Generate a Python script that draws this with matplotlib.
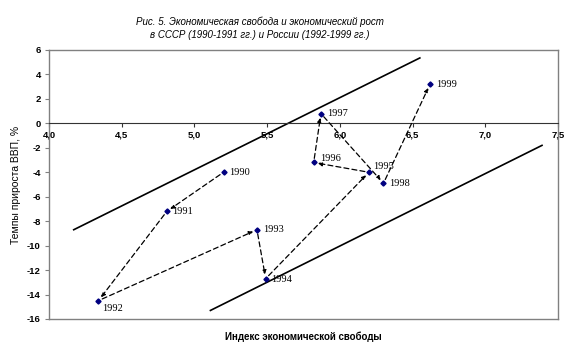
import matplotlib
matplotlib.use("Agg")
import matplotlib.pyplot as plt
from matplotlib.ticker import FixedLocator, FuncFormatter

# Data
years = ["1990", "1991", "1992", "1993", "1994", "1995", "1996", "1997", "1998", "1999"]
freedom = [5.20, 4.81, 4.34, 5.43, 5.49, 6.20, 5.82, 5.87, 6.30, 6.62]
growth = [-4.0, -7.2, -14.5, -8.7, -12.7, -4.0, -3.2, 0.8, -4.9, 3.2]

upper_x = [4.17, 6.55]
upper_y = [-8.7, 5.35]
lower_x = [5.11, 7.39]
lower_y = [-15.3, -1.8]

x_ticks = [4.0, 4.5, 5.0, 5.5, 6.0, 6.5, 7.0, 7.5]
y_ticks = [-16, -14, -12, -10, -8, -6, -4, -2, 0, 2, 4, 6]

# label offsets (pixels)
label_off = {
    "1990": (6, 0), "1991": (5, 0), "1992": (4, -8), "1993": (6, 0),
    "1994": (5, -1), "1995": (4, 6), "1996": (6, 4), "1997": (6, 0),
    "1998": (6, 0), "1999": (6, 0),
}

fig = plt.figure(figsize=(5.75, 3.54), dpi=100)
ax = fig.add_axes([49/575, 1-319/354, (558-49)/575, (319-50)/354])

ax.set_xlim(4.0, 7.5)
ax.set_ylim(-16, 6)

grey = "#808080"
for s in ["left", "right", "top"]:
    ax.spines[s].set_color(grey)
    ax.spines[s].set_linewidth(1.0)
ax.spines["bottom"].set_position(("data", 0))
ax.spines["bottom"].set_color("#333333")
ax.spines["bottom"].set_linewidth(0.8)
ax.plot([0, 1], [0, 0], transform=ax.transAxes, color=grey, lw=1.0, clip_on=False)

ax.xaxis.set_major_locator(FixedLocator(x_ticks))
ax.yaxis.set_major_locator(FixedLocator(y_ticks))
ax.xaxis.set_major_formatter(FuncFormatter(lambda v, p: f"{v:.1f}".replace(".", ",")))
ax.yaxis.set_major_formatter(FuncFormatter(lambda v, p: f"{int(v)}"))
ax.tick_params(axis="x", direction="out", length=3, width=0.8, color="#333333",
               labelsize=6.8, pad=2)
ax.tick_params(axis="y", direction="out", length=3, width=0.8, color=grey,
               labelsize=6.8, pad=3)
for lab in ax.get_xticklabels() + ax.get_yticklabels():
    lab.set_fontweight("bold")
    lab.set_family("Liberation Sans")

# trend lines
ax.plot(upper_x, upper_y, color="black", lw=1.2)
ax.plot(lower_x, lower_y, color="black", lw=1.2)

# arrows
for i in range(len(years) - 1):
    ax.annotate("", xy=(freedom[i+1], growth[i+1]), xytext=(freedom[i], growth[i]),
                arrowprops=dict(arrowstyle="-|>", linestyle=(0, (4, 2.5)), lw=0.9,
                                color="black", shrinkA=3, shrinkB=3, mutation_scale=6))

ax.plot(freedom, growth, linestyle="none", marker="D", markersize=2.6,
        color="#000080", zorder=5)

for yr, xv, yv in zip(years, freedom, growth):
    dx, dy = label_off[yr]
    ax.annotate(yr, (xv, yv), xytext=(dx, dy), textcoords="offset pixels",
                ha="left", va="center", fontsize=7.5, family="Liberation Serif")

fig.text(260/575, 1-22/354, "Рис. 5. Экономическая свобода и экономический рост",
         ha="center", va="center", fontsize=7, style="italic", family="Liberation Sans")
fig.text(260/575, 1-35/354, "в СССР (1990-1991 гг.) и России (1992-1999 гг.)",
         ha="center", va="center", fontsize=7, style="italic", family="Liberation Sans")
fig.text(303/575, 1-337/354, "Индекс экономической свободы", ha="center", va="center",
         fontsize=7, fontweight="bold", family="Liberation Sans")
fig.text(16/575, 1-185/354, "Темпы прироста ВВП, %", ha="center", va="center",
         rotation=90, fontsize=7.5, family="Liberation Sans")

fig.savefig("out.png", dpi=100)
